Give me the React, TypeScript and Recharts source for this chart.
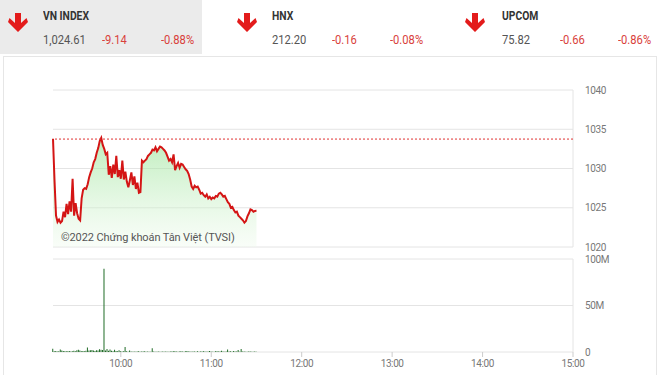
import React from 'react'
import { ComposedChart, Area, Bar, XAxis, YAxis, CartesianGrid, ReferenceLine } from 'recharts'

// phiên sáng, mỗi phút một điểm, bắt đầu 09:15
const START_MIN = 9 * 60 + 15
const PREV_CLOSE = 1033.75

const priceValues = [
  1033.8, 1028.5, 1024.0, 1023.2, 1023.5, 1023.1, 1023.3, 1024.5, 1023.8, 1025.5,
  1024.2, 1025.8, 1024.5, 1028.7, 1024.0, 1025.6, 1024.3, 1023.6, 1023.4, 1026.2,
  1027.3, 1027.5, 1027.4, 1028.0, 1028.9, 1029.5, 1030.0, 1030.8, 1031.2, 1032.0,
  1032.6, 1033.5, 1033.9, 1033.0, 1032.5, 1031.8, 1032.0, 1029.2, 1030.3, 1028.8,
  1030.5, 1029.3, 1031.6, 1028.9, 1029.8, 1028.7, 1031.0, 1028.6, 1029.6, 1028.3,
  1027.6, 1028.5, 1029.5, 1027.9, 1029.0, 1027.4, 1028.2, 1026.9, 1027.0, 1031.0,
  1030.8, 1031.0, 1031.2, 1031.6, 1031.8, 1032.0, 1032.4, 1032.3, 1032.7, 1032.2,
  1032.5, 1032.8, 1032.7, 1032.5, 1032.3, 1032.0, 1031.5, 1031.0, 1031.2, 1030.8,
  1031.8, 1029.8, 1030.3, 1030.7, 1030.1, 1030.6, 1030.5, 1030.2, 1029.9, 1029.7,
  1029.3, 1028.6, 1027.7, 1027.4, 1027.8, 1027.6, 1027.7, 1027.3, 1026.8, 1026.9,
  1026.6, 1026.4, 1026.7, 1026.2, 1026.4, 1026.1, 1026.3, 1026.2, 1026.5, 1026.4,
  1026.8, 1026.9, 1026.7, 1026.4, 1026.5, 1026.1, 1025.7, 1025.5, 1025.0, 1025.1,
  1024.7, 1024.4, 1024.5, 1024.0, 1023.8, 1023.6, 1023.4, 1023.1, 1023.3, 1023.9,
  1024.3, 1024.8, 1024.7, 1024.5, 1024.6, 1024.61,
]

// khối lượng (triệu cp)
const volumeValues = [
  3.5, 0.8, 1.2, 0.6, 0.9, 2.8, 1.5, 1.1, 0.7, 0.9,
  0.8, 1.0, 0.6, 0.9, 1.3, 0.7, 1.8, 2.5, 1.6, 0.8,
  1.2, 0.9, 1.4, 4.8, 1.7, 1.9, 2.2, 1.5, 1.1, 2.0,
  1.6, 3.0, 2.4, 2.1, 89.5, 1.5, 3.2, 1.3, 2.7, 1.4,
  0.9, 2.3, 1.0, 0.8, 1.9, 0.7, 0.6, 0.9, 5.5, 0.8,
  0.4, 1.6, 0.5, 0.3, 0.6, 0.4, 0.5, 0.9, 0.4, 0.6,
  0.5, 0.8, 0.4, 0.5, 0.3, 0.4, 4.0, 0.5, 0.3, 0.4,
  0.5, 0.3, 0.4, 0.6, 0.3, 0.5, 0.4, 0.3, 0.5, 0.6,
  0.9, 0.7, 0.5, 0.4, 0.6, 0.8, 0.5, 0.4, 0.7, 1.1,
  0.6, 0.5, 0.4, 0.6, 0.5, 0.3, 0.7, 0.4, 0.5, 0.6,
  0.8, 0.5, 0.4, 0.6, 1.2, 0.5, 0.4, 0.3, 0.7, 0.9,
  0.5, 0.6, 1.4, 0.5, 0.4, 0.6, 2.6, 0.5, 0.7, 0.4,
  1.0, 0.6, 0.5, 2.2, 0.4, 3.1, 0.6, 0.5, 0.3, 0.4,
  0.6, 0.5, 0.4, 0.3, 0.5, 0.4,
]

const timeTicks = [600, 660, 720, 780, 840, 900]
const priceTicks = [1020, 1025, 1030, 1035, 1040]
const volumeTicks = [0, 50, 100]

const indices = [
  { name: 'VN INDEX', value: '1,024.61', change: '-9.14', pct: '-0.88%' },
  { name: 'HNX', value: '212.20', change: '-0.16', pct: '-0.08%' },
  { name: 'UPCOM', value: '75.82', change: '-0.66', pct: '-0.86%' },
]

const priceData = priceValues.map((price, i) => ({ t: START_MIN + i, price }))
const volumeData = volumeValues.map((vol, i) => ({ t: START_MIN + i, vol }))

const fmtTime = (m: number) => `${Math.floor(m / 60)}:${String(m % 60).padStart(2, '0')}`

const GRID = '#e4e4e4'
const AXIS_TEXT = { fontSize: 10, fill: '#777', fontFamily: 'Roboto', letterSpacing: -0.4 }

function DownArrow({ left }: { left: number }) {
  return (
    <svg style={{ position: 'absolute', left, top: 12 }} width={22} height={22} viewBox="0 0 22 22">
      <path d="M8 1 H14 V11 L19.5 6 L21 10 L11 20 L1 10 L2.5 6 L8 11 Z" fill="#e31b1b" />
    </svg>
  )
}

const condensed: React.CSSProperties = {
  position: 'absolute',
  fontFamily: 'Roboto',
  transform: 'scaleX(0.86)',
  transformOrigin: 'left center',
  whiteSpace: 'nowrap',
}

function Header() {
  const cols = [
    { arrow: 7, text: 43, chg: 102, pct: 161 },
    { arrow: 236, text: 272, chg: 332, pct: 390 },
    { arrow: 464, text: 502, chg: 560, pct: 618 },
  ]
  return (
    <>
      <div style={{ position: 'absolute', left: 0, top: 0, width: 202, height: 54, background: '#ebebeb' }} />
      {indices.map((d, i) => (
        <React.Fragment key={d.name}>
          <DownArrow left={cols[i].arrow} />
          <div style={{ ...condensed, left: cols[i].text, top: 9, fontSize: 12, fontWeight: 700, color: '#333' }}>{d.name}</div>
          <div style={{ ...condensed, left: cols[i].text, top: 32, fontSize: 13, color: '#555' }}>{d.value}</div>
          <div style={{ ...condensed, left: cols[i].chg, top: 32, fontSize: 13, color: '#d9413b' }}>{d.change}</div>
          <div style={{ ...condensed, left: cols[i].pct, top: 32, fontSize: 13, color: '#d9413b' }}>{d.pct}</div>
        </React.Fragment>
      ))}
    </>
  )
}

export default function App() {
  return (
    <div style={{ position: 'absolute', left: 0, top: 0, width: 660, height: 375, overflow: 'hidden', background: '#fff' }}>
      <Header />
      <div style={{ position: 'absolute', left: 3, top: 56, width: 652, height: 340, border: '1px solid #e6e6e6' }} />

      <div style={{ position: 'absolute', left: 0, top: 0 }}>
        <ComposedChart width={660} height={258} data={priceData} margin={{ top: 90, right: 27, left: 53, bottom: 11 }}>
          <defs>
            <linearGradient id="priceFill" x1="0" y1="0" x2="0" y2="1">
              <stop offset="0%" stopColor="#8ee08b" stopOpacity={0.95} />
              <stop offset="100%" stopColor="#eefaec" stopOpacity={0.6} />
            </linearGradient>
          </defs>
          <CartesianGrid stroke={GRID} vertical={false} />
          <XAxis dataKey="t" type="number" domain={[START_MIN, 900]} hide />
          <YAxis
            orientation="right"
            domain={[1020, 1040]}
            ticks={priceTicks}
            interval={0}
            width={60}
            axisLine={false}
            tickLine={false}
            tickMargin={6}
            tick={AXIS_TEXT}
          />
          <ReferenceLine x={900} stroke={GRID} />
          <Area
            type="linear"
            dataKey="price"
            stroke="#d41515"
            strokeWidth={2}
            fill="url(#priceFill)"
            isAnimationActive={false}
            dot={false}
          />
          <ReferenceLine y={PREV_CLOSE} stroke="#e03030" strokeDasharray="2 2" />
        </ComposedChart>
      </div>

      <div style={{ position: 'absolute', left: 61, top: 231, fontSize: 11, color: '#555', fontFamily: 'Roboto', whiteSpace: 'nowrap', letterSpacing: -0.1 }}>
        ©2022 Chứng khoán Tân Việt (TVSI)
      </div>

      <div style={{ position: 'absolute', left: 0, top: 250 }}>
        <ComposedChart width={660} height={125} data={volumeData} margin={{ top: 9, right: 27, left: 53, bottom: 3 }}>
          <CartesianGrid stroke={GRID} vertical={false} />
          <XAxis
            dataKey="t"
            type="number"
            domain={[START_MIN, 900]}
            ticks={timeTicks}
            interval={0}
            tickFormatter={fmtTime}
            axisLine={false}
            tickLine={{ stroke: '#ccc' }}
            tickSize={5}
            tickMargin={3}
            height={20}
            tick={AXIS_TEXT}
          />
          <YAxis
            orientation="right"
            domain={[0, 100]}
            ticks={volumeTicks}
            interval={0}
            tickFormatter={(v: number) => (v === 0 ? '0' : `${v}M`)}
            width={60}
            axisLine={false}
            tickLine={false}
            tickMargin={6}
            tick={AXIS_TEXT}
          />
          <ReferenceLine x={900} stroke={GRID} />
          <Bar dataKey="vol" fill="#1f6b26" barSize={1} isAnimationActive={false} />
        </ComposedChart>
      </div>
    </div>
  )
}
